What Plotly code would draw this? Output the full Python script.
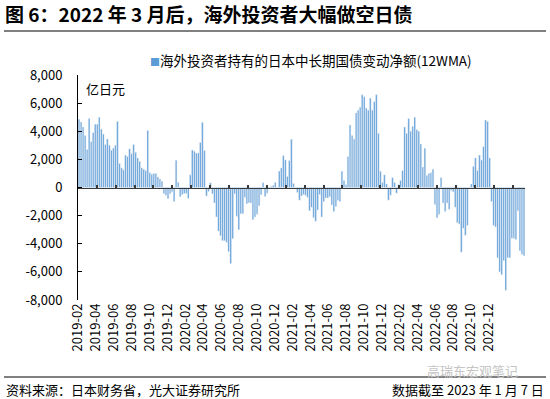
import plotly.graph_objects as go

# ---------------- data ----------------
# 海外投资者持有的日本中长期国债变动净额 (12WMA), 亿日元, weekly bars (2019-02 ... 2023-01-07)
net_change = [
    4850, 4650, 4300, 3700, 2700, 4900, 3250, 3900, 4500, 4500,
    5000, 4150, 3800, 3050, 3450, 3000, 2650, 2800, 3000, 4700,
    1700, 1400, 1250, 2300, 2200, 2750, 2400, 3050, 2500, 2100,
    1850, 1400, 1300, 1200, 4050,
    1050, 950, 1000, 1000, 750, 600, 450, -450, -550, -800, -450, -300, -1000,
    1940,
    380, -660, -500, -430, -430, -780, 900, 2670, 2580, 2440, 2460, 3200, 4630,
    2630, -600, -280, 330, -450, -1100, -2100, -3100, -3430, -3780, -3780, -3900, -4560, -5410,
    -3640, -450, -2050, -3000, -1870, -1870, -690, -1160, -1090, -1100,
    -2290, -2100, -1900, -1300, -520, 330, -640, -400, -100, 70,
    140, 350, -50, 1160, 1390, 2270, 1960, 780, 1910, 3430,
    280, 30, -350, -900, -600, -500, -550, -700, -1650, -1400, -2150, -2400,
    -1600, -500, -2100, -1000, -750, -750, -650, -1250, -1700, -1350, -900, -1000,
    1150, 500, 200, 2200, 4450, 3700, 3450, 5300, 5500, 5700,
    6600, 6450, 5650, 5500, 6350, 5500, 6100, 6600, 3850,
    1150, 350, 900, 250, -900, -550, 700, 350, -400, 200, 500, 1200,
    4300, 3850, 4900, 4000, 4350, 5000, 4100, 4000, 3100, 1450, 2800, 850, 1000, 1050, 1300,
    -1200, -2150, -1900, 700, -1100, -1700, -1100, -1550, -200, -300, -1400, -2500, -2600, -4600,
    -2900, -3400, -2700, -50, 250, 1500, 2100, 1200, 2300, 1950, 2900, 4800, 4700, 2100,
    -1000, -2700, -2800, -5000, -6000, -6200, -5200, -7300, -5000, -5000, -3600, -3600, -3700,
    -1650, -4500, -4750, -4850,
]

x_tick_labels = [
    "2019-02", "2019-04", "2019-06", "2019-08", "2019-10", "2019-12",
    "2020-02", "2020-04", "2020-06", "2020-08", "2020-10", "2020-12",
    "2021-02", "2021-04", "2021-06", "2021-08", "2021-10", "2021-12",
    "2022-02", "2022-04", "2022-06", "2022-08", "2022-10", "2022-12",
]

y_tick_values = [-8000, -6000, -4000, -2000, 0, 2000, 4000, 6000, 8000]
y_tick_labels = ["-8,000", "-6,000", "-4,000", "-2,000", "0", "2,000", "4,000", "6,000", "8,000"]

series_name = "海外投资者持有的日本中长期国债变动净额(12WMA)"
title_text = "图 6：2022 年 3 月后，海外投资者大幅做空日债"
unit_text = "亿日元"
source_text = "资料来源：日本财务省，光大证券研究所"
date_text = "数据截至 2023 年 1 月 7 日"
watermark_text = "高瑞东宏观笔记"

# ---------------- layout helpers ----------------
W, H = 550, 399
L, R, T, B = 78, 525, 75, 300          # plot area in pixels
FONT = "Noto Sans CJK SC"
BLUE = "#5B9BD5"

n = len(net_change)
pos = list(range(n))
pitch = (R - L) / n


def px(xp):
    return (xp - L) / (R - L)


def py(yp):
    return (B - yp) / (B - T)


def idx_at(xp):
    return (xp - L) / pitch - 0.5


# label positions spread evenly as in the source chart
first_lbl, last_lbl = -0.45, idx_at(489)
step = (last_lbl - first_lbl) / (len(x_tick_labels) - 1)
x_tick_pos = [first_lbl + i * step for i in range(len(x_tick_labels))]

fig = go.Figure()
fig.add_trace(go.Bar(
    x=pos, y=net_change, name=series_name,
    marker=dict(color=BLUE, line=dict(width=0)),
    showlegend=False, xaxis="x", yaxis="y",
))
# invisible copy carried on the zero-line axis (provides tick marks on y=0)
fig.add_trace(go.Bar(
    x=pos, y=net_change, marker=dict(color="rgba(0,0,0,0)"),
    showlegend=False, hoverinfo="skip", xaxis="x2", yaxis="y",
))

fig.update_layout(
    width=W, height=H,
    margin=dict(l=L, r=W - R, t=T, b=H - B, pad=0),
    paper_bgcolor="white", plot_bgcolor="white",
    font=dict(family=FONT, size=13, color="#000"),
    bargap=0.22,
    barmode="overlay",
    title=dict(
        text="<b>" + title_text + "</b>",
        x=5 / W, y=1 - 15 / H, xref="container", yref="container",
        xanchor="left", yanchor="middle",
        font=dict(family=FONT, size=19, color="#000"),
    ),
    xaxis=dict(
        range=[-0.5, n - 0.5], showgrid=False, zeroline=False, showline=False,
        tickmode="array", tickvals=x_tick_pos, ticktext=x_tick_labels,
        tickangle=-90, ticks="", tickfont=dict(family=FONT, size=13, color="#000"),
        fixedrange=True,
    ),
    xaxis2=dict(
        overlaying="x", matches="x", anchor="free", position=0.5, side="bottom",
        showgrid=False, zeroline=False, showline=True, linecolor="#3a3a3a", linewidth=1.5,
        showticklabels=False, ticks="inside", ticklen=3, tickwidth=2, tickcolor="#3a3a3a",
        tickmode="linear", tick0=idx_at(96.7), dtick=18.9 / pitch,
        layer="above traces",
    ),
    yaxis=dict(
        range=[-8000, 8000], showgrid=False, zeroline=False,
        showline=True, linecolor="#000", linewidth=1,
        ticks="inside", ticklen=4, tickcolor="#000",
        tickmode="array", tickvals=y_tick_values, ticktext=y_tick_labels,
        ticklabelstandoff=12,
        tickfont=dict(family=FONT, size=13, color="#000"),
        fixedrange=True,
    ),
    shapes=[
        dict(type="line", xref="paper", yref="paper", x0=px(4), x1=px(546),
             y0=py(31), y1=py(31), line=dict(color="#000", width=1)),
        dict(type="line", xref="paper", yref="paper", x0=px(4), x1=px(546),
             y0=py(377), y1=py(377), line=dict(color="#000", width=1)),
    ],
    annotations=[
        dict(text='<span style="font-size:10px;color:%s">■</span>%s' % (BLUE, series_name),
             xref="paper", yref="paper", x=px(148), y=py(60),
             xanchor="left", yanchor="middle", showarrow=False,
             font=dict(family=FONT, size=13.5, color="#000")),
        dict(text=unit_text, xref="paper", yref="paper", x=px(84), y=py(88),
             xanchor="left", yanchor="middle", showarrow=False,
             font=dict(family=FONT, size=13, color="#000")),
        dict(text=watermark_text, xref="paper", yref="paper", x=px(520), y=py(370),
             xanchor="right", yanchor="middle", showarrow=False,
             font=dict(family=FONT, size=13, color="#c4c4c4")),
        dict(text=source_text, xref="paper", yref="paper", x=px(4), y=py(389),
             xanchor="left", yanchor="middle", showarrow=False,
             font=dict(family=FONT, size=13, color="#000")),
        dict(text=date_text, xref="paper", yref="paper", x=px(546), y=py(389),
             xanchor="right", yanchor="middle", showarrow=False,
             font=dict(family=FONT, size=13, color="#000")),
    ],
)

fig.write_html(
    "out.html",
    config={"displayModeBar": False, "staticPlot": True},
    post_script="document.body.style.margin='0px';",
)
